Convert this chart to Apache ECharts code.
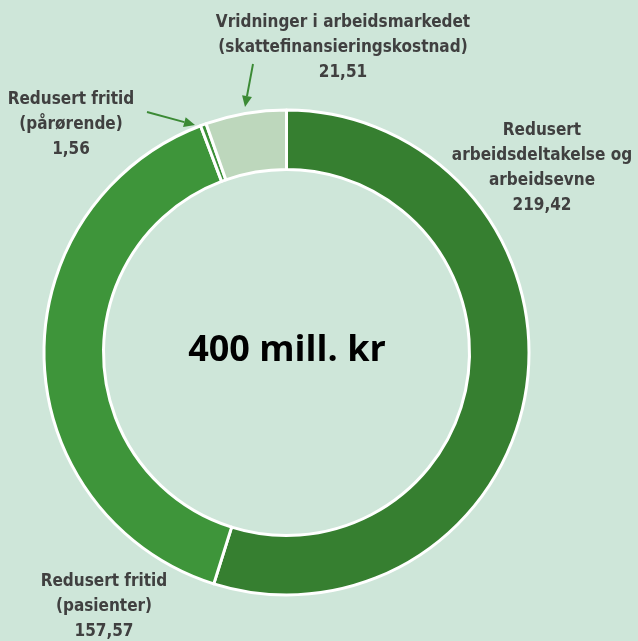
<!DOCTYPE html>
<html>
<head>
<meta charset="utf-8">
<script src="https://cdn.jsdelivr.net/npm/echarts@6/dist/echarts.min.js"></script>
<style>
  html, body { margin: 0; padding: 0; background: #cee6d9; }
  #main { width: 638px; height: 641px; }
</style>
</head>
<body>
<div id="main"></div>
<script>
  // kategorier og verdier (mill. kr)
  var categories = [
    'Redusert\narbeidsdeltakelse og\narbeidsevne',
    'Redusert fritid\n(pasienter)',
    'Redusert fritid\n(pårørende)',
    'Vridninger i arbeidsmarkedet\n(skattefinansieringskostnad)'
  ];
  var values = [219.42, 157.57, 1.56, 21.51];
  var colors = ['#367f30', '#3e953a', '#3b8f37', '#bdd7bc'];
  var centerText = '400 mill. kr';

  // plassering av etikettene
  var labelPos = [[542, 168], [104, 607], [71, 125], [343, 48]];

  function fmt(v) {
    return v.toFixed(2).replace('.', ',');
  }

  // pil fra (x1,y1) til (x2,y2)
  function arrow(x1, y1, x2, y2) {
    var dx = x2 - x1, dy = y2 - y1;
    var len = Math.sqrt(dx * dx + dy * dy);
    var ux = dx / len, uy = dy / len;
    var hl = 11, hw = 5;
    var bx = x2 - ux * hl, by = y2 - uy * hl;
    return {
      type: 'group',
      children: [{
        type: 'line',
        shape: { x1: x1, y1: y1, x2: bx, y2: by },
        style: { stroke: '#3b8a35', lineWidth: 2 }
      }, {
        type: 'polygon',
        shape: { points: [[x2, y2], [bx - uy * hw, by + ux * hw], [bx + uy * hw, by - ux * hw]] },
        style: { fill: '#3b8a35' }
      }]
    };
  }

  var data = categories.map(function (c, i) {
    return { name: c, value: values[i], itemStyle: { color: colors[i] } };
  });

  var chart = echarts.init(document.getElementById('main'));
  var option = {
    backgroundColor: '#cee6d9',
    animation: false,
    graphic: [
      {
        type: 'text',
        x: 287, y: 351,
        style: {
          text: centerText,
          fontSize: 36,
          fontWeight: 'bold',
          fontFamily: 'Open Sans',
          fill: '#000',
          align: 'center',
          verticalAlign: 'middle'
        }
      },
      arrow(253, 64, 245, 107),
      arrow(147, 112, 195, 125)
    ],
    series: [{
      type: 'pie',
      center: [286.5, 352.5],
      radius: [183, 242.5],
      startAngle: 90,
      clockwise: true,
      itemStyle: { borderColor: '#ffffff', borderWidth: 3 },
      label: {
        show: true,
        position: 'outside',
        color: '#404040',
        fontFamily: '"Liberation Sans Narrow", "DejaVu Sans Condensed", sans-serif',
        fontWeight: 'bold',
        fontSize: 17,
        lineHeight: 25,
        align: 'center',
        overflow: 'none',
        formatter: function (p) {
          return p.name + '\n' + fmt(p.value);
        }
      },
      labelLine: { show: false },
      labelLayout: function (p) {
        var pos = labelPos[p.dataIndex];
        return { x: pos[0], y: pos[1], align: 'center', verticalAlign: 'middle', width: 300 };
      },
      emphasis: { disabled: true },
      data: data
    }]
  };
  chart.setOption(option);
</script>
</body>
</html>
